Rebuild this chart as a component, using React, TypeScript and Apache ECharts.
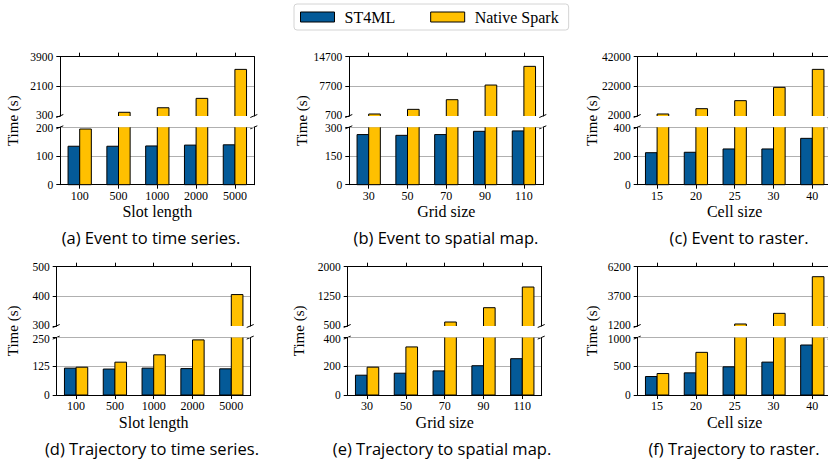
import React, { useEffect, useRef } from 'react';
import * as echarts from 'echarts';

// ---------- data ----------
const slotLengths = ['100', '500', '1000', '2000', '5000'];
const gridSizes = ['30', '50', '70', '90', '110'];
const cellSizes = ['15', '20', '25', '30', '40'];

const eventTsST4ML = [134, 134, 135, 138, 139];
const eventTsSpark = [194, 525, 800, 1370, 3130];
const eventMapST4ML = [262, 258, 262, 279, 281];
const eventMapSpark = [1170, 2270, 4550, 8010, 12420];
const eventRasterST4ML = [223, 226, 249, 249, 323];
const eventRasterSpark = [3350, 6940, 12340, 21330, 33460];
const trajTsST4ML = [117, 113, 117, 115, 114];
const trajTsSpark = [121, 143, 175, 240, 406];
const trajMapST4ML = [138, 152, 168, 204, 253];
const trajMapSpark = [194, 335, 601, 963, 1486];
const trajRasterST4ML = [322, 386, 491, 573, 871];
const trajRasterSpark = [374, 743, 1369, 2267, 5357];

// axis ranges: [min, max, interval]
const upperRanges = [
  [300, 3900, 1800],
  [700, 14700, 7000],
  [2000, 42000, 20000],
  [300, 500, 100],
  [500, 2000, 750],
  [1200, 6200, 2500],
];
const lowerRanges = [
  [0, 200, 100],
  [0, 300, 150],
  [0, 400, 200],
  [0, 250, 125],
  [0, 400, 200],
  [0, 1000, 500],
];

const xNames = ['Slot length', 'Grid size', 'Cell size', 'Slot length', 'Grid size', 'Cell size'];
const captions = [
  '(a) Event to time series.',
  '(b) Event to spatial map.',
  '(c) Event to raster.',
  '(d) Trajectory to time series.',
  '(e) Trajectory to spatial map.',
  '(f) Trajectory to raster.',
];
const categories = [slotLengths, gridSizes, cellSizes, slotLengths, gridSizes, cellSizes];
const st4mlSeries = [eventTsST4ML, eventMapST4ML, eventRasterST4ML, trajTsST4ML, trajMapST4ML, trajRasterST4ML];
const sparkSeries = [eventTsSpark, eventMapSpark, eventRasterSpark, trajTsSpark, trajMapSpark, trajRasterSpark];
const seriesNames = ['ST4ML', 'Native Spark'];

// ---------- layout ----------
const plotLefts = [60.3, 349.3, 637.7, 56.7, 347.7, 637.7];
const yNameX = [12.7, 301.7, 591.7, 12.7, 299.3, 591.7];
const captionX = [151, 446, 739, 152, 442, 734];
const plotWidth = 194;
const upperTops = [56.7, 266.7];
const upperHeight = 59.3;
const lowerTops = [127.3, 337.6];
const lowerHeight = 57.4;
const captionY = [237, 448];
const barFraction = 0.3; // each bar's width as a fraction of the category band

const SERIF = '"Liberation Serif", "DejaVu Serif", serif';
const SANS = '"Open Sans", "Noto Sans", sans-serif';
const BLUE = '#045a98';
const GOLD = '#ffc000';
const COLORS = [BLUE, GOLD];

function makeRenderItem(k: number) {
  return (params: any, api: any) => {
    const idx = api.value(0);
    const v = api.value(1);
    const base = api.coord([idx, 0]);
    const top = api.coord([idx, v]);
    const band = api.size([1, 0])[0];
    const bw = band * barFraction;
    const x0 = k === 0 ? base[0] - bw : base[0];
    const x1 = x0 + bw;
    const cs = params.coordSys;
    const gTop = cs.y;
    const gBot = cs.y + cs.height;
    const yT = Math.max(top[1], gTop);
    const yB = Math.min(base[1], gBot);
    if (yT >= yB) return null;
    const clipTop = top[1] < gTop - 0.01;
    const clipBot = base[1] > gBot + 0.01;
    const stroke = { stroke: '#000', lineWidth: 1, fill: null as any };
    const children: any[] = [
      { type: 'rect', shape: { x: x0, y: yT, width: bw, height: yB - yT }, style: { fill: COLORS[k] } },
    ];
    if (!clipTop && !clipBot) {
      children.push({
        type: 'polygon',
        shape: { points: [[x0, yB], [x0, yT], [x1, yT], [x1, yB]] },
        style: { ...stroke },
      });
    } else if (clipTop && !clipBot) {
      children.push({
        type: 'polyline',
        shape: { points: [[x0, yT], [x0, yB], [x1, yB], [x1, yT]] },
        style: { ...stroke },
      });
    } else if (!clipTop && clipBot) {
      children.push({
        type: 'polyline',
        shape: { points: [[x0, yB], [x0, yT], [x1, yT], [x1, yB]] },
        style: { ...stroke },
      });
    } else {
      children.push({ type: 'line', shape: { x1: x0, y1: yT, x2: x0, y2: yB }, style: { ...stroke } });
      children.push({ type: 'line', shape: { x1: x1, y1: yT, x2: x1, y2: yB }, style: { ...stroke } });
    }
    return { type: 'group', children };
  };
}

function buildOption() {
  const grid: any[] = [];
  const xAxis: any[] = [];
  const yAxis: any[] = [];
  const series: any[] = [];
  const graphic: any[] = [];

  for (let i = 0; i < 6; i++) {
    const row = Math.floor(i / 3);
    const left = plotLefts[i];
    const parts = [
      { top: upperTops[row], height: upperHeight, range: upperRanges[i], upper: true },
      { top: lowerTops[row], height: lowerHeight, range: lowerRanges[i], upper: false },
    ];
    parts.forEach((p) => {
      const gi = grid.length;
      grid.push({ left, top: p.top, width: plotWidth, height: p.height, containLabel: false, outerBoundsMode: 'none' });
      xAxis.push({
        gridIndex: gi,
        type: 'category',
        data: categories[i],
        position: p.upper ? 'top' : 'bottom',
        axisLine: { show: true, onZero: false, lineStyle: { color: '#000', width: 1 } },
        axisTick: { show: true, alignWithLabel: true, length: 4, lineStyle: { color: '#000' } },
        axisLabel: p.upper
          ? { show: false }
          : { show: true, color: '#000', fontFamily: SERIF, fontSize: 12, margin: 5 },
        splitLine: { show: false },
        name: p.upper ? '' : xNames[i],
        nameLocation: 'middle',
        nameGap: 19,
        nameTextStyle: { color: '#000', fontFamily: SERIF, fontSize: 16 },
      });
      const yi = yAxis.length;
      const edgeValue = p.upper ? p.range[0] : p.range[1];
      yAxis.push({
        gridIndex: gi,
        type: 'value',
        min: p.range[0],
        max: p.range[1],
        interval: p.range[2],
        axisLine: { show: true, onZero: false, lineStyle: { color: '#000', width: 1 } },
        axisTick: { show: true, length: 4, lineStyle: { color: '#000' } },
        axisLabel: {
          color: '#000',
          fontFamily: SERIF,
          fontSize: 11.5,
          lineHeight: 11,
          margin: 7,
          formatter: (val: number) =>
            val === edgeValue ? `{${p.upper ? 'lo' : 'hi'}|${val}}` : String(val),
          rich: {
            lo: { fontFamily: SERIF, fontSize: 11.5, color: '#000', lineHeight: 11, padding: [0, 0, 2, 0] },
            hi: { fontFamily: SERIF, fontSize: 11.5, color: '#000', lineHeight: 11, padding: [2, 0, 0, 0] },
          },
        },
        splitLine: {
          show: true,
          showMinLine: !p.upper,
          lineStyle: { color: '#b0b0b0', width: 1 },
        },
      });
      yAxis.push({
        gridIndex: gi,
        type: 'value',
        position: 'right',
        min: p.range[0],
        max: p.range[1],
        interval: p.range[2],
        axisLine: { show: true, onZero: false, lineStyle: { color: '#000', width: 1 } },
        axisTick: { show: false },
        axisLabel: { show: false },
        splitLine: { show: false },
      });
      const xi = xAxis.length - 1;
      [st4mlSeries[i], sparkSeries[i]].forEach((vals, k) => {
        series.push({
          type: 'custom',
          name: seriesNames[k],
          xAxisIndex: xi,
          yAxisIndex: yi,
          data: vals.map((v, j) => [j, v]),
          encode: { x: 0, y: 1 },
          itemStyle: { color: COLORS[k], borderColor: '#000', borderWidth: 1 },
          renderItem: makeRenderItem(k),
          silent: true,
        });
      });
    });

    // break marks
    const yU = upperTops[row] + upperHeight;
    const yL = lowerTops[row];
    [left, left + plotWidth].forEach((x) => {
      [yU, yL].forEach((y) => {
        graphic.push({
          type: 'line',
          silent: true,
          shape: { x1: x - 4, y1: y + 1.5, x2: x + 3, y2: y - 1.5 },
          style: { stroke: '#000', lineWidth: 1 },
        });
      });
    });

    // y axis name
    graphic.push({
      type: 'text',
      x: yNameX[i],
      y: (upperTops[row] + lowerTops[row] + lowerHeight) / 2,
      rotation: Math.PI / 2,
      style: {
        text: 'Time (s)',
        font: `15px ${SERIF}`,
        fill: '#000',
        align: 'center',
        verticalAlign: 'middle',
        textAlign: 'center',
        textVerticalAlign: 'middle',
      },
    });

    // caption
    graphic.push({
      type: 'text',
      x: captionX[i],
      y: captionY[row],
      style: {
        text: captions[i],
        font: `16.5px ${SANS}`,
        fill: '#000',
        align: 'center',
        verticalAlign: 'middle',
        textAlign: 'center',
        textVerticalAlign: 'middle',
      },
    });
  }

  return {
    animation: false,
    legend: {
      data: seriesNames.map((n, k) => ({
        name: n,
        icon: 'rect',
        itemStyle: { color: COLORS[k], borderColor: '#000', borderWidth: 1 },
      })),
      left: 294,
      top: 4,
      padding: [5, 10, 5, 6],
      itemWidth: 34,
      itemHeight: 10,
      itemGap: 35,
      borderColor: '#d4d4d4',
      borderWidth: 1,
      borderRadius: 3,
      selectedMode: false,
      textStyle: { color: '#000', fontFamily: SERIF, fontSize: 16, padding: [0, 0, 0, 5] },
    },
    grid,
    xAxis,
    yAxis,
    series,
    graphic,
  };
}

export default function App() {
  const ref = useRef<HTMLDivElement>(null);
  useEffect(() => {
    if (!ref.current) return;
    const chart = echarts.init(ref.current, null, { renderer: 'svg' });
    chart.setOption(buildOption() as any);
    return () => chart.dispose();
  }, []);
  return (
    <div
      ref={ref}
      style={{ position: 'fixed', left: 0, top: 0, width: 828, height: 465, background: '#fff' }}
    />
  );
}
